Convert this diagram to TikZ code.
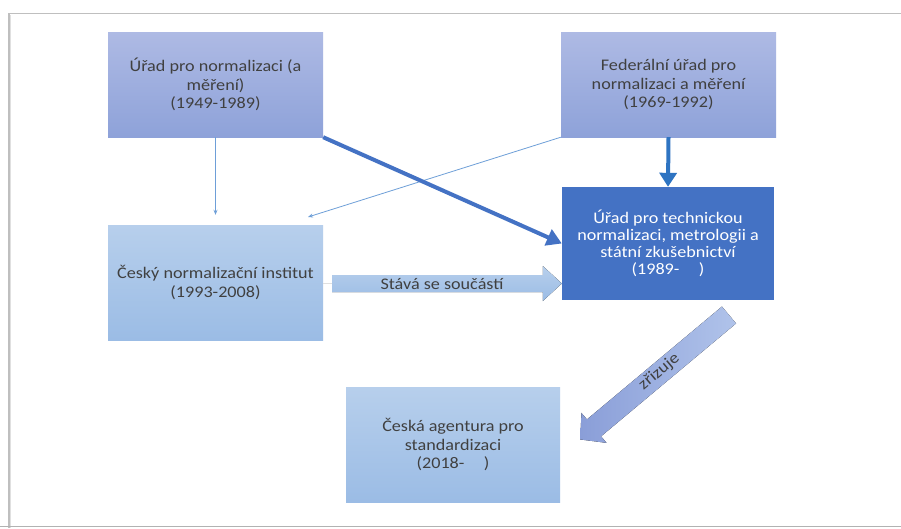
\documentclass[tikz,border=0pt]{standalone}
\usepackage{fontspec}
\setmainfont{Carlito}[FakeStretch=1.12]
\usetikzlibrary{arrows.meta,calc}
\definecolor{lavtop}{HTML}{AEBAE4}
\definecolor{lavbot}{HTML}{8EA2D9}
\definecolor{lbtop}{HTML}{B7CFEC}
\definecolor{lbbot}{HTML}{9BBCE5}
\definecolor{cblue}{HTML}{4472C4}
\definecolor{dblue}{HTML}{2E74C2}
\definecolor{thinblue}{HTML}{6E9FD8}
\definecolor{txt}{HTML}{404040}
\definecolor{zrtop}{HTML}{B0C3EA}
\definecolor{zrbot}{HTML}{8A9ED8}
\begin{document}
\begin{tikzpicture}[x=1pt,y=-1pt,
  box/.style={align=center, font=\fontsize{16.2}{18.6}\selectfont, text=txt, inner sep=0pt},
  lav/.style={box, top color=lavtop, bottom color=lavbot, minimum width=215pt, minimum height=105pt},
  lb/.style={box, top color=lbtop, bottom color=lbbot, minimum width=215pt, minimum height=115pt},
  dark/.style={box, fill=cblue, text=white, minimum width=212pt, minimum height=113pt, font=\fontsize{16.2}{17.2}\selectfont},
  thinarrow/.style={draw=thinblue, line width=0.8pt, -{Stealth[length=5pt,width=4pt]}},
  lbl/.style={font=\fontsize{16.2}{17}\selectfont, text=txt, inner sep=1pt}
]
\useasboundingbox (0,0) rectangle (901,528);
\fill[white] (0,0) rectangle (901,528);
\draw[black!25, line width=1.5pt] (9,528) -- (9,13.5) -- (901,13.5);
\draw[black!12, line width=1pt] (10.5,528) -- (10.5,15);
\draw[black!30, line width=1.2pt] (0,526.5) -- (901,526.5);

% boxes
\node[lav] (A) at (215.5,84.5) {\raisebox{6pt}{\parbox{210pt}{\centering Úřad pro normalizaci (a\\ měření)\\ (1949-1989)}}};
\node[lav] (B) at (668.5,84.5) {\raisebox{6pt}{\parbox{210pt}{\centering Federální úřad pro\\ normalizaci a měření\\ (1969-1992)}}};
\node[dark] (C) at (668,243.5) {\raisebox{9pt}{\parbox{208pt}{\centering Úřad pro technickou\\ normalizaci, metrologii a\\ státní zkušebnictví\\ (1989-\hspace{1.2em})}}};
\node[lb] (D) at (215.5,282.5) {Český normalizační institut\\ (1993-2008)};
\node[lb, minimum width=214pt] (E) at (453,444.5) {\raisebox{-4pt}{\parbox{208pt}{\centering Česká agentura pro\\ standardizaci\\ (2018-\hspace{1.2em})}}};

% thin connectors
\coordinate (bd) at (308,217);
\draw[thinarrow, shorten >=10pt] (A.south) -- (D.north);
\draw[thinarrow] (B.south west) -- (bd);

% thick connectors
\draw[draw=cblue, line width=4pt, -{Triangle[length=15pt,width=17pt]}] (A.south east) -- (C.west);
\draw[draw=dblue, line width=4pt, -{Triangle[length=14pt,width=17pt]}] (B.south) -- (C.north);

% block arrow: Stava se soucasti
\path (D.east) ++(9,1) coordinate (s1);
\coordinate (s2) at ($(C.west |- D.east)+(0,1)$);
\draw[black!12, line width=0.6pt] (D.east |- s1) -- (s1);
\fill[top color=lbtop, bottom color=lbbot]
  ($(s1)+(0,-8.5)$) -- ($(s2)+(-19,-8.5)$) -- ($(s2)+(-19,-17.5)$) -- (s2)
  -- ($(s2)+(-19,17.5)$) -- ($(s2)+(-19,8.5)$) -- ($(s1)+(0,8.5)$) -- cycle;
\node[lbl] (sa) at (442,284) {Stává se součástí};

% block arrow: zrizuje
\begin{scope}[shift={(729,315)}, rotate=219.9]
  \fill[left color=zrbot, right color=zrtop]
    (0,-11) -- (176,-11) -- (176,-19.5) -- (194,0) -- (176,19.5) -- (176,11) -- (0,11) -- cycle;
  \node[lbl, rotate=39.9] (zr) at (90,1) {zřizuje};
\end{scope}
\end{tikzpicture}
\end{document}
